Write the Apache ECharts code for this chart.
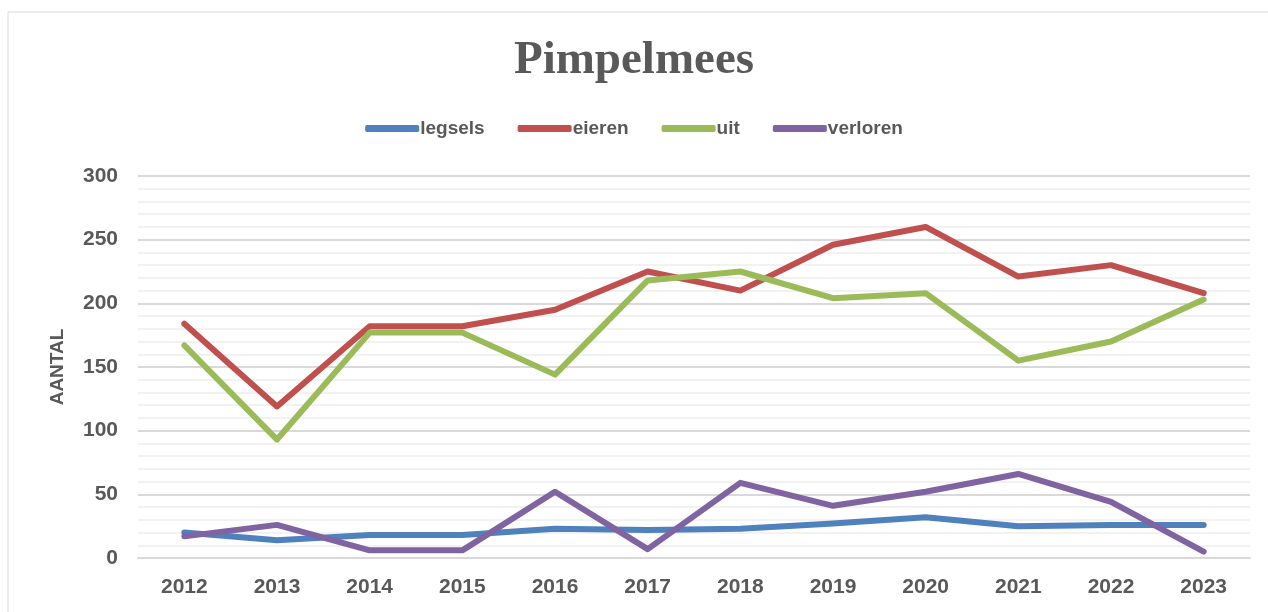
<!DOCTYPE html>
<html lang="nl">
<head>
    <meta charset="utf-8">
    <title>Pimpelmees</title>
    <script src="https://cdn.jsdelivr.net/npm/echarts@6/dist/echarts.min.js"></script>
    <style>
        html, body { margin: 0; padding: 0; background: #fff; }
        #chart { width: 1268px; height: 612px; }
    </style>
</head>
<body>
<div id="chart"></div>
<script type="text/javascript">
    // data
    var years = ['2012', '2013', '2014', '2015', '2016', '2017', '2018', '2019', '2020', '2021', '2022', '2023'];
    var legsels = [20, 14, 18, 18, 23, 22, 23, 27, 32, 25, 26, 26];
    var eieren = [184, 119, 182, 182, 195, 225, 210, 246, 260, 221, 230, 208];
    var uit = [167, 93, 177, 177, 144, 218, 225, 204, 208, 155, 170, 203];
    var verloren = [17, 26, 6, 6, 52, 7, 59, 41, 52, 66, 44, 5];

    var labelFont = '"Liberation Sans", Arial, sans-serif';
    var grey = '#595959';

    function lineSeries(name, data, color) {
        return {
            name: name,
            type: 'line',
            data: data,
            symbol: 'none',
            lineStyle: { width: 6, color: color, cap: 'round', join: 'round' },
            itemStyle: { color: color }
        };
    }

    var chart = echarts.init(document.getElementById('chart'));
    chart.setOption({
        animation: false,
        backgroundColor: '#fff',
        graphic: [{
            type: 'rect',
            shape: { x: 8, y: 12, width: 1300, height: 700 },
            style: { fill: 'none', stroke: '#d9d9d9', lineWidth: 1 }
        }],
        title: {
            text: 'Pimpelmees',
            left: 'center',
            top: 32,
            textStyle: {
                fontFamily: '"Liberation Serif", "DejaVu Serif", serif',
                fontSize: 47,
                fontWeight: 'bold',
                color: grey
            }
        },
        legend: {
            top: 114,
            left: 'center',
            itemWidth: 54,
            itemHeight: 7,
            itemGap: 33,
            icon: 'roundRect',
            textStyle: { fontFamily: labelFont, fontSize: 19, fontWeight: 'bold', color: grey, padding: [0, 0, 0, -4] },
            data: ['legsels', 'eieren', 'uit', 'verloren']
        },
        grid: { left: 138, right: 18, top: 176, bottom: 54 },
        xAxis: {
            type: 'category',
            data: years,
            boundaryGap: true,
            axisLine: { show: true, lineStyle: { color: '#d9d9d9', width: 2 } },
            axisTick: { show: false },
            axisLabel: { fontFamily: labelFont, fontSize: 21, fontWeight: 'bold', color: grey, margin: 19 }
        },
        yAxis: {
            type: 'value',
            min: 0,
            max: 300,
            interval: 50,
            name: 'AANTAL',
            nameLocation: 'middle',
            nameGap: 71,
            nameRotate: 90,
            nameTextStyle: { fontFamily: labelFont, fontSize: 19, fontWeight: 'bold', color: grey },
            axisLine: { show: false },
            axisTick: { show: false },
            axisLabel: { fontFamily: labelFont, fontSize: 21, fontWeight: 'bold', color: grey, margin: 20 },
            splitLine: { lineStyle: { color: '#d9d9d9', width: 2 } },
            minorTick: { show: false, splitNumber: 5 },
            minorSplitLine: { show: true, lineStyle: { color: '#f2f2f2', width: 2 } }
        },
        series: [
            lineSeries('legsels', legsels, '#4f81bd'),
            lineSeries('eieren', eieren, '#c0504d'),
            lineSeries('uit', uit, '#9bbb59'),
            lineSeries('verloren', verloren, '#8064a2')
        ]
    });
</script>
</body>
</html>
